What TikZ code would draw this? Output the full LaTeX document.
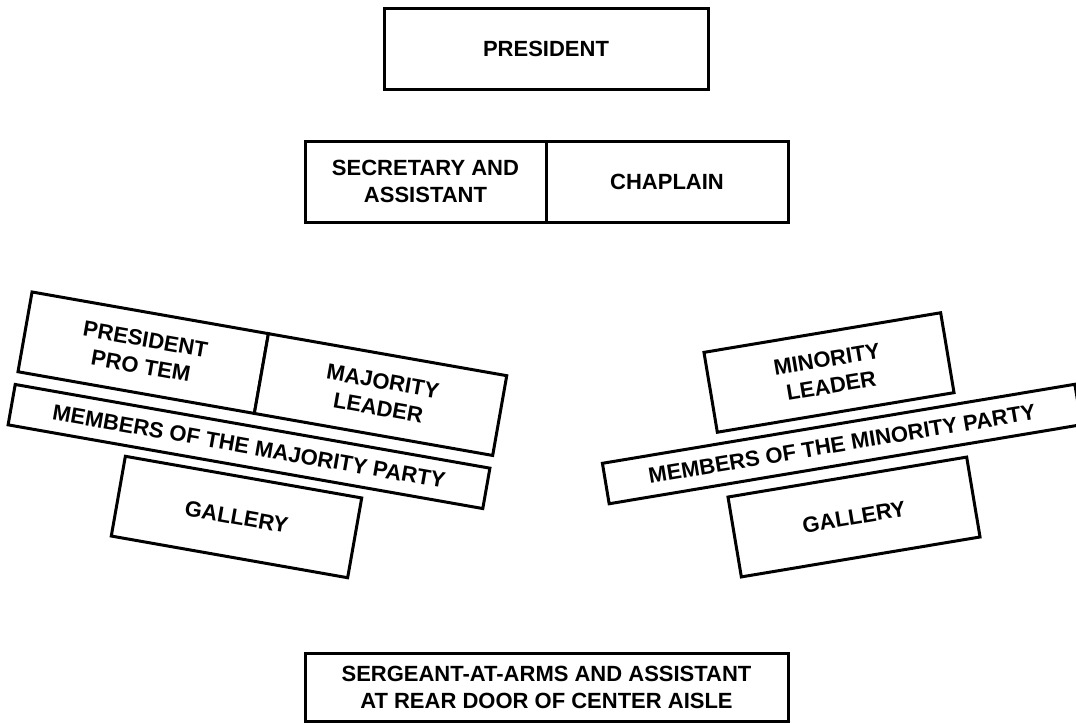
\documentclass[tikz,border=0pt]{standalone}
\usepackage{fontspec}
\setmainfont{Liberation Sans}
\usetikzlibrary{positioning}
\tikzstyle{seat} = [draw, line width=3pt, fill=white, rectangle, align=center, inner sep=0pt, outer sep=0pt, minimum height=81pt, font=\bfseries\fontsize{22}{27}\selectfont]
\tikzstyle{bench} = [seat, minimum height=41pt]

\begin{document}
\begin{tikzpicture}[x=1pt, y=-1pt]
	\useasboundingbox (0,0) rectangle (1076,723);
	\node [seat, minimum width=324pt] (president) at (546,48.5) {PRESIDENT};
	\node [seat, minimum width=241pt] (secretary) at (425.5,181.5) {SECRETARY AND\\ASSISTANT};
	\node [seat, minimum width=242pt, anchor=west] (chaplain) at (secretary.east) {CHAPLAIN};
	
	% majority side
	\node [seat, minimum width=240pt, rotate=-10] (protem) at (143.2,352.7) {PRESIDENT\\PRO TEM};
	\node [seat, minimum width=242pt, rotate=-10, anchor=west] (majleader) at (protem.east) {MAJORITY\\LEADER};
	\node [bench, minimum width=482pt, rotate=-10] (majmembers) at (249,446.5) {MEMBERS OF THE MAJORITY PARTY};
	\node [seat, minimum width=240pt, rotate=-10] (majgallery) at (236.5,517) {GALLERY};
	
	% minority side
	\node [seat, minimum width=240pt, rotate=9.5] (minleader) at (829,372.5) {MINORITY\\LEADER};
	\node [bench, minimum width=479pt, rotate=9.5] (minmembers) at (842,444) {MEMBERS OF THE MINORITY PARTY};
	\node [seat, minimum width=242pt, rotate=9.5] (mingallery) at (854,517) {GALLERY};
	
	\node [seat, minimum width=483pt, minimum height=68pt] (sergeant) at (546.5,687) {SERGEANT-AT-ARMS AND ASSISTANT\\AT REAR DOOR OF CENTER AISLE};
\end{tikzpicture}
\end{document}
